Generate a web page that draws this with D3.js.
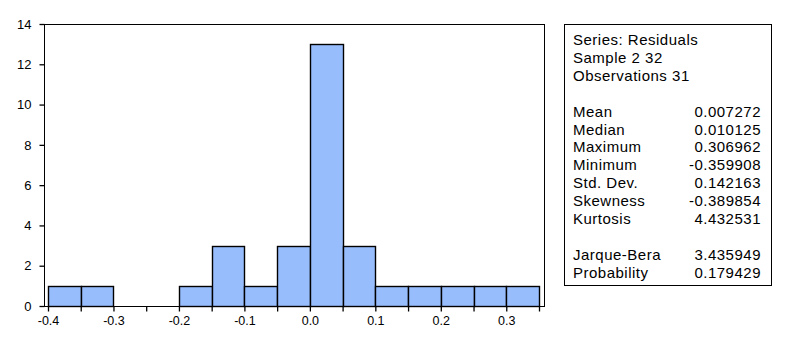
<!DOCTYPE html>
<html>
<head>
<meta charset="utf-8">
<script src="https://cdn.jsdelivr.net/npm/d3@7"></script>
<style>
  body { margin: 0; background: #fff; }
  svg text { font-family: Arial, "Liberation Sans", sans-serif; fill: #000; }
</style>
</head>
<body>
<div id="chart"></div>
<script>
// histogram bins (lower edge of each 0.05 wide bin) and counts
var binStarts = [-0.40, -0.35, -0.30, -0.25, -0.20, -0.15, -0.10, -0.05, 0.00, 0.05, 0.10, 0.15, 0.20, 0.25, 0.30];
var counts    = [1, 1, 0, 0, 1, 3, 1, 3, 13, 3, 1, 1, 1, 1, 1];
var binWidth = 0.05;

var yTicks = [0, 2, 4, 6, 8, 10, 12, 14];
var xLabelTicks = [-0.4, -0.3, -0.2, -0.1, 0.0, 0.1, 0.2, 0.3];

var headerLines = ["Series: Residuals", "Sample 2 32", "Observations 31"];
var statNames  = ["Mean", "Median", "Maximum", "Minimum", "Std. Dev.", "Skewness", "Kurtosis"];
var statValues = ["0.007272", "0.010125", "0.306962", "-0.359908", "0.142163", "-0.389854", "4.432531"];
var testNames  = ["Jarque-Bera", "Probability"];
var testValues = ["3.435949", "0.179429"];

var W = 793, H = 340;
var svg = d3.select("#chart").append("svg")
  .attr("width", W)
  .attr("height", H);

// plot frame (pixels)
var plotL = 44, plotR = 544, plotT = 24, plotB = 306;

var x = d3.scaleLinear()
  .domain([-0.4, 0.35])
  .range([48, 539]);
var y = d3.scaleLinear()
  .domain([0, 14])
  .range([plotB, plotT]);

function fmt(v) {
  return d3.format(".1f")(v).replace("\u2212", "-");
}

// bars
svg.selectAll("rect.bar")
  .data(binStarts.map(function(b, i) { return {x0: b, x1: b + binWidth, n: counts[i]}; })
    .filter(function(d) { return d.n > 0; }))
  .enter()
  .append("rect")
    .attr("class", "bar")
    .attr("x", function(d) { return Math.round(x(d.x0)) + 0.5; })
    .attr("y", function(d) { return Math.round(y(d.n)) + 0.5; })
    .attr("width", function(d) { return Math.round(x(d.x1)) - Math.round(x(d.x0)); })
    .attr("height", function(d) { return Math.round(y(0)) - Math.round(y(d.n)); })
    .style("fill", "#98bdfd")
    .style("stroke", "#000")
    .style("stroke-width", 1.4);

// frame
svg.append("rect")
  .attr("x", plotL + 0.5)
  .attr("y", plotT + 0.5)
  .attr("width", plotR - plotL)
  .attr("height", plotB - plotT)
  .style("fill", "none")
  .style("stroke", "#000")
  .style("stroke-width", 1.3)
  .style("shape-rendering", "crispEdges");

// y axis
var yAxis = svg.append("g")
  .attr("transform", "translate(" + (plotL + 0.5) + ",0)")
  .call(d3.axisLeft(y).tickValues(yTicks).tickSize(5).tickPadding(8).tickFormat(d3.format("d")));
yAxis.select(".domain").remove();
yAxis.selectAll("line").style("stroke", "#000").style("stroke-width", 1.3);
yAxis.selectAll("text").style("font-size", "13px").style("font-family", "Arial, 'Liberation Sans', sans-serif").attr("fill", "#111");

// x axis, minor ticks every 0.05 and labels every 0.1
var xTickVals = d3.range(0, 16).map(function(i) { return -0.4 + i * 0.05; });
var xAxis = svg.append("g")
  .attr("transform", "translate(0," + (plotB + 0.5) + ")")
  .call(d3.axisBottom(x).tickValues(xTickVals).tickSize(5).tickPadding(5)
    .tickFormat(function(v) {
      var hit = xLabelTicks.some(function(t) { return Math.abs(t - v) < 1e-6; });
      return hit ? fmt(v) : "";
    }));
xAxis.select(".domain").remove();
xAxis.selectAll("line").style("stroke", "#000").style("stroke-width", 1.3);
xAxis.selectAll("text").style("font-size", "12.5px").style("font-family", "Arial, 'Liberation Sans', sans-serif").attr("fill", "#111");

// stats box
var bx = 564, by = 24, bw = 207, bh = 261;
svg.append("rect")
  .attr("x", bx + 0.5)
  .attr("y", by + 0.5)
  .attr("width", bw)
  .attr("height", bh)
  .style("fill", "#fff")
  .style("stroke", "#000")
  .style("stroke-width", 1.3)
  .style("shape-rendering", "crispEdges");

var lineH = 17.9, base0 = 45, textL = 573, textR = 761;
var rows = [];
headerLines.forEach(function(s) { rows.push([s, ""]); });
rows.push(["", ""]);
statNames.forEach(function(s, i) { rows.push([s, statValues[i]]); });
rows.push(["", ""]);
testNames.forEach(function(s, i) { rows.push([s, testValues[i]]); });

var stat = svg.append("g").style("font-size", "15px").style("letter-spacing", "0.5px");
rows.forEach(function(r, i) {
  var yy = base0 + i * lineH;
  if (r[0]) stat.append("text").attr("x", textL).attr("y", yy).text(r[0]);
  if (r[1]) stat.append("text").attr("x", textR).attr("y", yy).attr("text-anchor", "end").text(r[1]);
});
</script>
</body>
</html>
